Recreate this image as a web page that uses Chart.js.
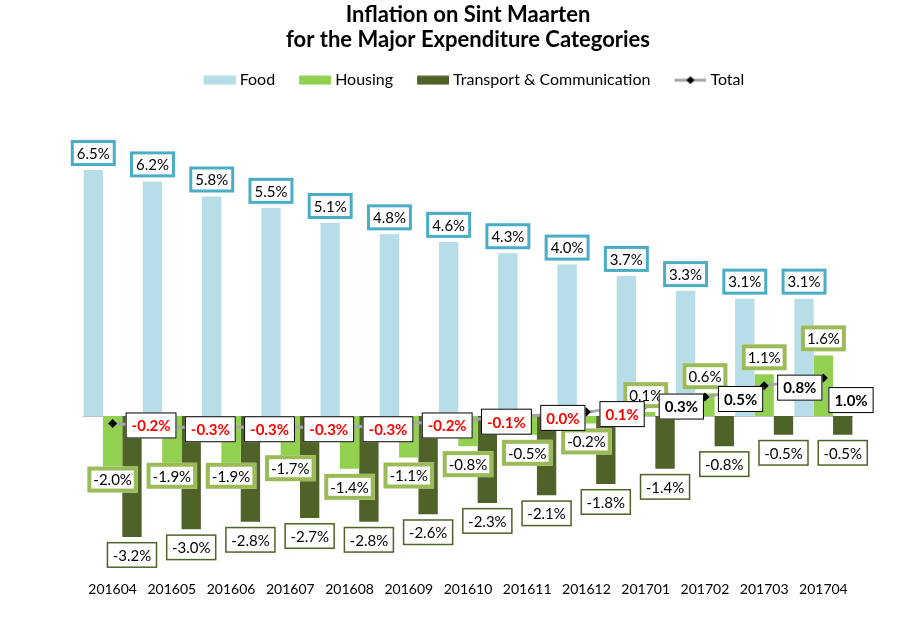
<!DOCTYPE html>
<html>
<head>
<meta charset="utf-8">
<script src="https://cdn.jsdelivr.net/npm/chart.js@4.4.1/dist/chart.umd.min.js"></script>
<style>
html,body{margin:0;padding:0;background:#fff;}
canvas{display:block;}
</style>
</head>
<body>
<canvas id="c" width="913" height="618"></canvas>
<script>
const categories = ['201604','201605','201606','201607','201608','201609','201610','201611','201612','201701','201702','201703','201704'];
const food = [6.5, 6.2, 5.8, 5.5, 5.1, 4.8, 4.6, 4.3, 4.0, 3.7, 3.3, 3.1, 3.1];
const housing = [-2.0, -1.9, -1.9, -1.7, -1.4, -1.1, -0.8, -0.5, -0.2, 0.1, 0.6, 1.1, 1.6];
const transport = [-3.2, -3.0, -2.8, -2.7, -2.8, -2.6, -2.3, -2.1, -1.8, -1.4, -0.8, -0.5, -0.5];
const total = [-0.2, -0.3, -0.3, -0.3, -0.3, -0.2, -0.1, 0.0, 0.1, 0.3, 0.5, 0.8, 1.0];
const titleLines = ['Inflation on Sint Maarten', 'for the Major Expenditure Categories'];

const FONT = 'Lato, "Open Sans", sans-serif';
const C_FOOD = '#B7DDE8', C_HOUS = '#92D050', C_TRANS = '#4F6228', C_LINE = '#A6A6A6';
const LEG_W = 40;

function swatch(kind, color) {
  // canvas is LEG_W + 8 wide, drawn centred on the legend box; swatch sits at its right end
  const w = 32, h = 10;
  const cv = document.createElement('canvas');
  cv.width = LEG_W + 8; cv.height = h;
  const g = cv.getContext('2d');
  const x0 = cv.width - w;
  if (kind === 'box') {
    g.fillStyle = color; g.fillRect(x0, 0.5, w, 9);
  } else {
    g.strokeStyle = C_LINE; g.lineWidth = 3;
    g.beginPath(); g.moveTo(x0, 5); g.lineTo(x0 + w, 5); g.stroke();
    g.fillStyle = '#000';
    const cx = x0 + w / 2;
    g.beginPath(); g.moveTo(cx, 1); g.lineTo(cx + 4, 5); g.lineTo(cx, 9); g.lineTo(cx - 4, 5); g.closePath(); g.fill();
  }
  return cv;
}

const zeroLine = {
  id: 'zeroLine',
  beforeDatasetsDraw(chart) {
    const y = chart.scales.y.getPixelForValue(0);
    const a = chart.chartArea, ctx = chart.ctx;
    ctx.save();
    ctx.strokeStyle = '#BFBFBF'; ctx.lineWidth = 1;
    ctx.beginPath(); ctx.moveTo(a.left, Math.round(y) + 0.5); ctx.lineTo(a.right, Math.round(y) + 0.5); ctx.stroke();
    ctx.restore();
  }
};

const boxLabels = {
  id: 'boxLabels',
  afterDatasetsDraw(chart) {
    const ctx = chart.ctx;
    const n = chart.data.datasets.length;
    // draw bar labels first, the Total (line) labels last so they sit on top
    const drawOrder = [];
    for (let k = 1; k < n; k++) drawOrder.push(k);
    drawOrder.push(0);
    drawOrder.forEach(di => {
      const ds = chart.data.datasets[di];
      const meta = chart.getDatasetMeta(di);
      const st = ds.lbl;
      meta.data.forEach((el, i) => {
        const v = ds.data[i];
        const text = v.toFixed(1) + '%';
        ctx.save();
        ctx.font = (st.bold ? 'bold ' : '') + '15px ' + FONT;
        const tw = ctx.measureText(text).width;
        const w = tw + 12, h = 26;
        let cx, cy;
        if (meta.type === 'bar') {
          cx = el.x;
          if (v >= 0) cy = el.y - (h / 2 + 4);
          else if (st.insideBelow !== undefined && v <= st.insideBelow) cy = el.y - 12;
          else cy = el.y + (h / 2 + 5);
        } else if (i === ds.data.length - 1) {
          cx = el.x + 5 + w / 2;
          cy = el.y + 22;
        } else {
          cx = el.x + 13 + w / 2;
          cy = el.y + 2;
        }
        const x0 = cx - w / 2, y0 = cy - h / 2;
        ctx.fillStyle = '#fff';
        ctx.fillRect(x0, y0, w, h);
        ctx.strokeStyle = st.border; ctx.lineWidth = st.bw;
        ctx.strokeRect(x0 + st.bw / 2, y0 + st.bw / 2, w - st.bw, h - st.bw);
        ctx.fillStyle = st.color ? st.color(v) : '#000';
        ctx.textAlign = 'center'; ctx.textBaseline = 'middle';
        ctx.fillText(text, cx, cy + 1);
        ctx.restore();
      });
    });
  }
};

new Chart(document.getElementById('c'), {
  data: {
    labels: categories,
    datasets: [
      { type: 'line', label: 'Total', data: total, order: 0,
        borderColor: C_LINE, borderWidth: 3, pointStyle: 'rectRot', pointRadius: 4.5,
        pointBackgroundColor: '#000', pointBorderColor: '#000', pointBorderWidth: 0,
        lbl: { border: '#000', bw: 1, bold: true, color: v => v <= 0.1 ? '#FF0000' : '#000' } },
      { type: 'bar', label: 'Food', data: food, backgroundColor: C_FOOD, order: 1,
        lbl: { border: '#4BACC6', bw: 3 } },
      { type: 'bar', label: 'Housing', data: housing, backgroundColor: C_HOUS, order: 1,
        lbl: { border: '#9BBB59', bw: 4, insideBelow: -1.6 } },
      { type: 'bar', label: 'Transport & Communication', data: transport, backgroundColor: C_TRANS, order: 1,
        lbl: { border: C_TRANS, bw: 1.5 } }
    ]
  },
  options: {
    responsive: false,
    devicePixelRatio: 1,
    animation: false,
    layout: { padding: { left: 83, right: 60, bottom: 6, top: 0 } },
    datasets: { bar: { categoryPercentage: 0.98, barPercentage: 1.0 } },
    scales: {
      x: { grid: { display: false, drawTicks: false }, border: { display: false },
           ticks: { color: '#000', font: { family: FONT, size: 14 }, padding: 14 } },
      y: { display: false, min: -4, max: 8.4 }
    },
    plugins: {
      title: { display: true, text: titleLines, color: '#000',
               font: { family: FONT, size: 22, weight: 'bold', lineHeight: 1.14 },
               padding: { top: 2.5, bottom: 7.5 } },
      legend: {
        position: 'top',
        labels: {
          color: '#000', font: { family: FONT, size: 16 }, usePointStyle: true, pointStyleWidth: LEG_W, padding: 12,
          generateLabels(chart) {
            const order = [1, 2, 3, 0];
            const sw = [swatch('box', C_FOOD), swatch('box', C_HOUS), swatch('box', C_TRANS), swatch('line')];
            return order.map((di, k) => ({
              text: chart.data.datasets[di].label, datasetIndex: di, pointStyle: sw[k],
              fillStyle: 'transparent', strokeStyle: 'transparent', lineWidth: 0, hidden: false, fontColor: '#000'
            }));
          }
        }
      },
      tooltip: { enabled: false }
    }
  },
  plugins: [zeroLine, boxLabels]
});
</script>
</body>
</html>
